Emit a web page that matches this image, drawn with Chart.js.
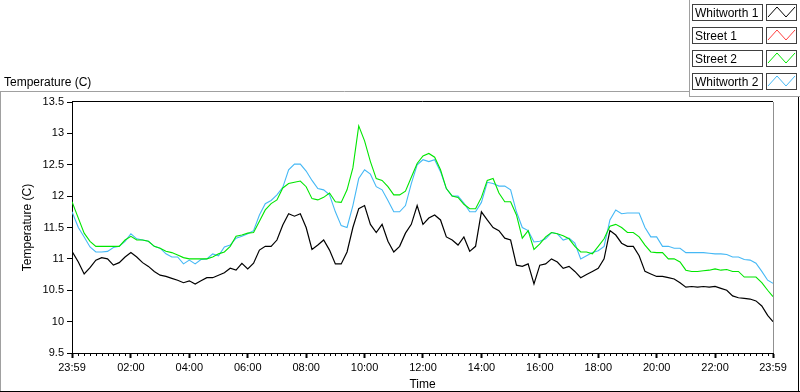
<!DOCTYPE html>
<html>
<head>
<meta charset="utf-8">
<script src="https://cdn.jsdelivr.net/npm/chart.js@4.4.1/dist/chart.umd.min.js"></script>
<style>
  html, body { margin: 0; padding: 0; background: #fff; }
  #wrap { width: 800px; height: 392px; position: relative; }
</style>
</head>
<body>
<div id="wrap"><canvas id="chart" width="800" height="392"></canvas></div>
<script>
// sample times, minutes of day (23:59 the evening before = -1)
const TIME_MIN = [-1, 12, 24, 36, 48, 60, 72, 84, 96, 108, 120, 132, 144, 156, 168, 180, 192, 204, 216, 228,
  240, 252, 264, 276, 288, 300, 312, 324, 336, 348, 360, 372, 384, 396, 408, 420, 432, 444, 456, 468,
  480, 492, 504, 516, 528, 540, 552, 564, 576, 588, 600, 612, 624, 636, 648, 660, 672, 684, 696, 708,
  720, 732, 744, 756, 768, 780, 792, 804, 816, 828, 840, 852, 864, 876, 888, 900, 912, 924, 936, 948,
  960, 972, 984, 996, 1008, 1020, 1032, 1044, 1056, 1068, 1080, 1092, 1104, 1116, 1128, 1140, 1152, 1164, 1176, 1188,
  1200, 1212, 1224, 1236, 1248, 1260, 1272, 1284, 1296, 1308, 1320, 1332, 1344, 1356, 1368, 1380, 1392, 1404, 1416, 1428, 1439];

const WHITWORTH_1 = [11.12, 10.95, 10.76, 10.86, 10.98, 11.02, 11.0, 10.9, 10.94, 11.03, 11.1, 11.03, 10.94, 10.88, 10.8,
  10.74, 10.72, 10.69, 10.66, 10.62, 10.65, 10.6, 10.65, 10.7, 10.7,
  10.74, 10.78, 10.85, 10.82, 10.93, 10.84, 10.93, 11.14, 11.2, 11.2, 11.3, 11.54, 11.72, 11.68, 11.72,
  11.5, 11.15, 11.22, 11.3, 11.14, 10.92, 10.92, 11.11, 11.5,
  11.8, 11.85, 11.55, 11.42, 11.55, 11.28, 11.11, 11.2, 11.41, 11.55, 11.85, 11.55, 11.65, 11.7, 11.62,
  11.35, 11.3, 11.22, 11.35, 11.12, 11.2, 11.75, 11.62, 11.5,
  11.45, 11.33, 11.3, 10.9, 10.88, 10.92, 10.6, 10.9, 10.92, 11.0, 10.95, 10.85, 10.88, 10.8, 10.7,
  10.75, 10.8, 10.85, 11.0, 11.45, 11.38, 11.25, 11.2, 11.2,
  11.05, 10.8, 10.76, 10.72, 10.72, 10.7, 10.68, 10.62, 10.55, 10.56, 10.55, 10.56, 10.55, 10.56, 10.53,
  10.5, 10.41, 10.38, 10.37, 10.36, 10.33, 10.25, 10.1, 10.0];

const STREET_1 = []; // no readings in this period

const STREET_2 = [11.91, 11.65, 11.41, 11.28, 11.2, 11.2, 11.2, 11.2, 11.2, 11.3, 11.36, 11.3, 11.3, 11.28, 11.2,
  11.17, 11.12, 11.1, 11.06, 11.02, 11.0, 11.0, 11.0, 11.0, 11.03,
  11.08, 11.11, 11.2, 11.36, 11.38, 11.41, 11.42, 11.6, 11.78, 11.88, 11.94, 12.13, 12.2, 12.22, 12.24,
  12.15, 11.96, 11.94, 11.98, 12.05, 11.91, 11.9, 12.1, 12.45,
  13.12, 12.88, 12.55, 12.28, 12.25, 12.15, 12.02, 12.02, 12.08, 12.3, 12.52, 12.64, 12.68, 12.62, 12.42,
  12.12, 12.0, 11.98, 11.87, 11.8, 11.8, 11.98, 12.25, 12.28,
  12.05, 11.91, 11.91, 11.7, 11.33, 11.45, 11.15, 11.24, 11.35, 11.42, 11.4, 11.37, 11.32, 11.2, 11.11,
  11.11, 11.08, 11.2, 11.32, 11.52, 11.55, 11.5, 11.42, 11.42,
  11.35, 11.22, 11.11, 11.1, 11.1, 11.0, 11.0, 10.95, 10.82, 10.8, 10.8, 10.81, 10.82, 10.84, 10.82,
  10.83, 10.8, 10.8, 10.71, 10.71, 10.71, 10.62, 10.5, 10.4];

const WHITWORTH_2 = [11.75, 11.5, 11.35, 11.19, 11.11, 11.11, 11.12, 11.18, 11.2, 11.28, 11.4, 11.32, 11.3, 11.28, 11.2,
  11.17, 11.08, 11.03, 11.03, 10.92, 10.98, 10.92, 10.99, 11.0, 11.08,
  11.05, 11.19, 11.22, 11.33, 11.36, 11.4, 11.45, 11.7, 11.88, 11.93, 12.02, 12.14, 12.42, 12.51, 12.51,
  12.4, 12.25, 12.12, 12.1, 12.02, 11.75, 11.53, 11.5, 11.85,
  12.28, 12.42, 12.35, 12.15, 12.1, 11.93, 11.75, 11.75, 11.85, 12.2, 12.5, 12.58, 12.55, 12.58, 12.39,
  12.12, 12.0, 12.0, 11.89, 11.75, 11.75, 11.9, 12.22, 12.2,
  12.16, 12.16, 12.1, 11.75, 11.5, 11.45, 11.27, 11.28, 11.32, 11.42, 11.4, 11.3, 11.33, 11.25, 11.0,
  11.05, 11.1, 11.13, 11.2, 11.62, 11.78, 11.72, 11.73, 11.73,
  11.73, 11.5, 11.35, 11.35, 11.2, 11.2, 11.17, 11.17, 11.1, 11.1, 11.1, 11.1, 11.09, 11.08, 11.08,
  11.07, 11.03, 11.03, 10.99, 10.98, 10.93, 10.8, 10.66, 10.61];

const X_TICK_VALUES = [-1, 120, 240, 360, 480, 600, 720, 840, 960, 1080, 1200, 1320, 1439];
const X_TICK_LABELS = ['23:59', '02:00', '04:00', '06:00', '08:00', '10:00', '12:00', '14:00', '16:00', '18:00', '20:00', '22:00', '23:59'];

const SERIES_NAMES = ['Whitworth 1', 'Street 1', 'Street 2', 'Whitworth 2'];
const SERIES_COLORS = ['#000000', '#ff4040', '#00e600', '#45b8f5'];

const FONT = '"Liberation Sans", Arial, sans-serif';
Chart.defaults.font.family = FONT;
Chart.defaults.color = '#000';

function pts(vals) {
  return vals.map((v, i) => ({ x: TIME_MIN[i], y: v }));
}

const frame = {
  id: 'frame',
  afterDraw(chart) {
    const c = chart.ctx;
    const a = chart.chartArea;
    const xs = chart.scales.x;
    c.save();
    c.lineWidth = 1;

    // outer panel
    c.strokeStyle = '#a0a0a0';
    c.beginPath();
    c.moveTo(0, 91.5); c.lineTo(689, 91.5);
    c.moveTo(0.5, 91); c.lineTo(0.5, 392);
    c.moveTo(689.5, 0); c.lineTo(689.5, 97);
    c.moveTo(689, 96.5); c.lineTo(800, 96.5);
    c.stroke();
    c.strokeStyle = '#000';
    c.beginPath();
    c.moveTo(0, 391.5); c.lineTo(800, 391.5);
    c.moveTo(798.5, 97); c.lineTo(798.5, 392);
    c.stroke();

    // plot borders top + right
    c.strokeStyle = '#000';
    c.beginPath();
    c.moveTo(a.left, a.top - 0.5); c.lineTo(a.right, a.top - 0.5);
    c.stroke();
    c.strokeStyle = '#909090';
    c.beginPath();
    c.moveTo(a.right + 0.5, a.top); c.lineTo(a.right + 0.5, a.bottom);
    c.stroke();

    // minor x ticks every 12 min
    c.strokeStyle = '#000';
    c.beginPath();
    for (let m = 12; m < 1439; m += 12) {
      if (m % 120 === 0) continue;
      const px = Math.round(xs.getPixelForValue(m)) + 0.5;
      c.moveTo(px, a.bottom); c.lineTo(px, a.bottom + 3);
    }
    c.stroke();

    // chart label
    c.fillStyle = '#000';
    c.font = '12px ' + FONT;
    c.textBaseline = 'alphabetic';
    c.fillText('Temperature (C)', 4, 86);

    // legend
    chart.data.datasets.forEach((ds, i) => {
      const t = 4 + i * 23;
      c.fillStyle = '#fff';
      c.fillRect(692, t, 70, 16);
      c.strokeStyle = '#404040';
      c.strokeRect(692.5, t + 0.5, 70, 16);
      c.strokeRect(766.5, t + 0.5, 30, 16);
      c.fillStyle = '#000';
      c.fillText(ds.label, 695, t + 12.5);
      c.strokeStyle = ds.borderColor;
      c.beginPath();
      c.moveTo(768, t + 13); c.lineTo(777, t + 3); c.lineTo(786, t + 13); c.lineTo(795, t + 3);
      c.stroke();
    });
    c.restore();
  }
};

new Chart(document.getElementById('chart'), {
  type: 'line',
  data: {
    datasets: [
      { label: SERIES_NAMES[0], data: pts(WHITWORTH_1), borderColor: SERIES_COLORS[0], borderWidth: 1.2 },
      { label: SERIES_NAMES[1], data: pts(STREET_1), borderColor: SERIES_COLORS[1], borderWidth: 1 },
      { label: SERIES_NAMES[2], data: pts(STREET_2), borderColor: SERIES_COLORS[2], borderWidth: 1.1 },
      { label: SERIES_NAMES[3], data: pts(WHITWORTH_2), borderColor: SERIES_COLORS[3], borderWidth: 1.1 }
    ]
  },
  options: {
    responsive: false,
    animation: false,
    devicePixelRatio: 1,
    layout: { padding: { top: 102, right: 27, bottom: 0, left: 0 } },
    elements: { point: { radius: 0 }, line: { tension: 0, fill: false } },
    plugins: { legend: { display: false }, tooltip: { enabled: false } },
    scales: {
      x: {
        type: 'linear',
        min: -1,
        max: 1439,
        afterFit: s => { s.height = 39; },
        afterBuildTicks: s => { s.ticks = X_TICK_VALUES.map(v => ({ value: v })); },
        ticks: {
          autoSkip: false, maxRotation: 0, padding: 3,
          font: { size: 11 },
          callback: (v, i) => X_TICK_LABELS[i]
        },
        grid: { drawOnChartArea: false, tickLength: 5, tickColor: '#000', tickWidth: 2 },
        border: { color: '#000' },
        title: { display: true, text: 'Time', font: { size: 12 }, padding: { top: 0, bottom: 0 } }
      },
      y: {
        min: 9.5,
        max: 13.5,
        afterFit: s => { s.width = 72; },
        ticks: {
          stepSize: 0.5, padding: 3, font: { size: 11 },
          callback: v => String(Math.round(v * 10) / 10)
        },
        grid: { drawOnChartArea: false, tickLength: 5, tickColor: '#000' },
        border: { color: '#000' },
        title: { display: true, text: 'Temperature (C)', font: { size: 12 }, padding: { top: 20, bottom: 0 } }
      }
    }
  },
  plugins: [frame]
});
</script>
</body>
</html>
